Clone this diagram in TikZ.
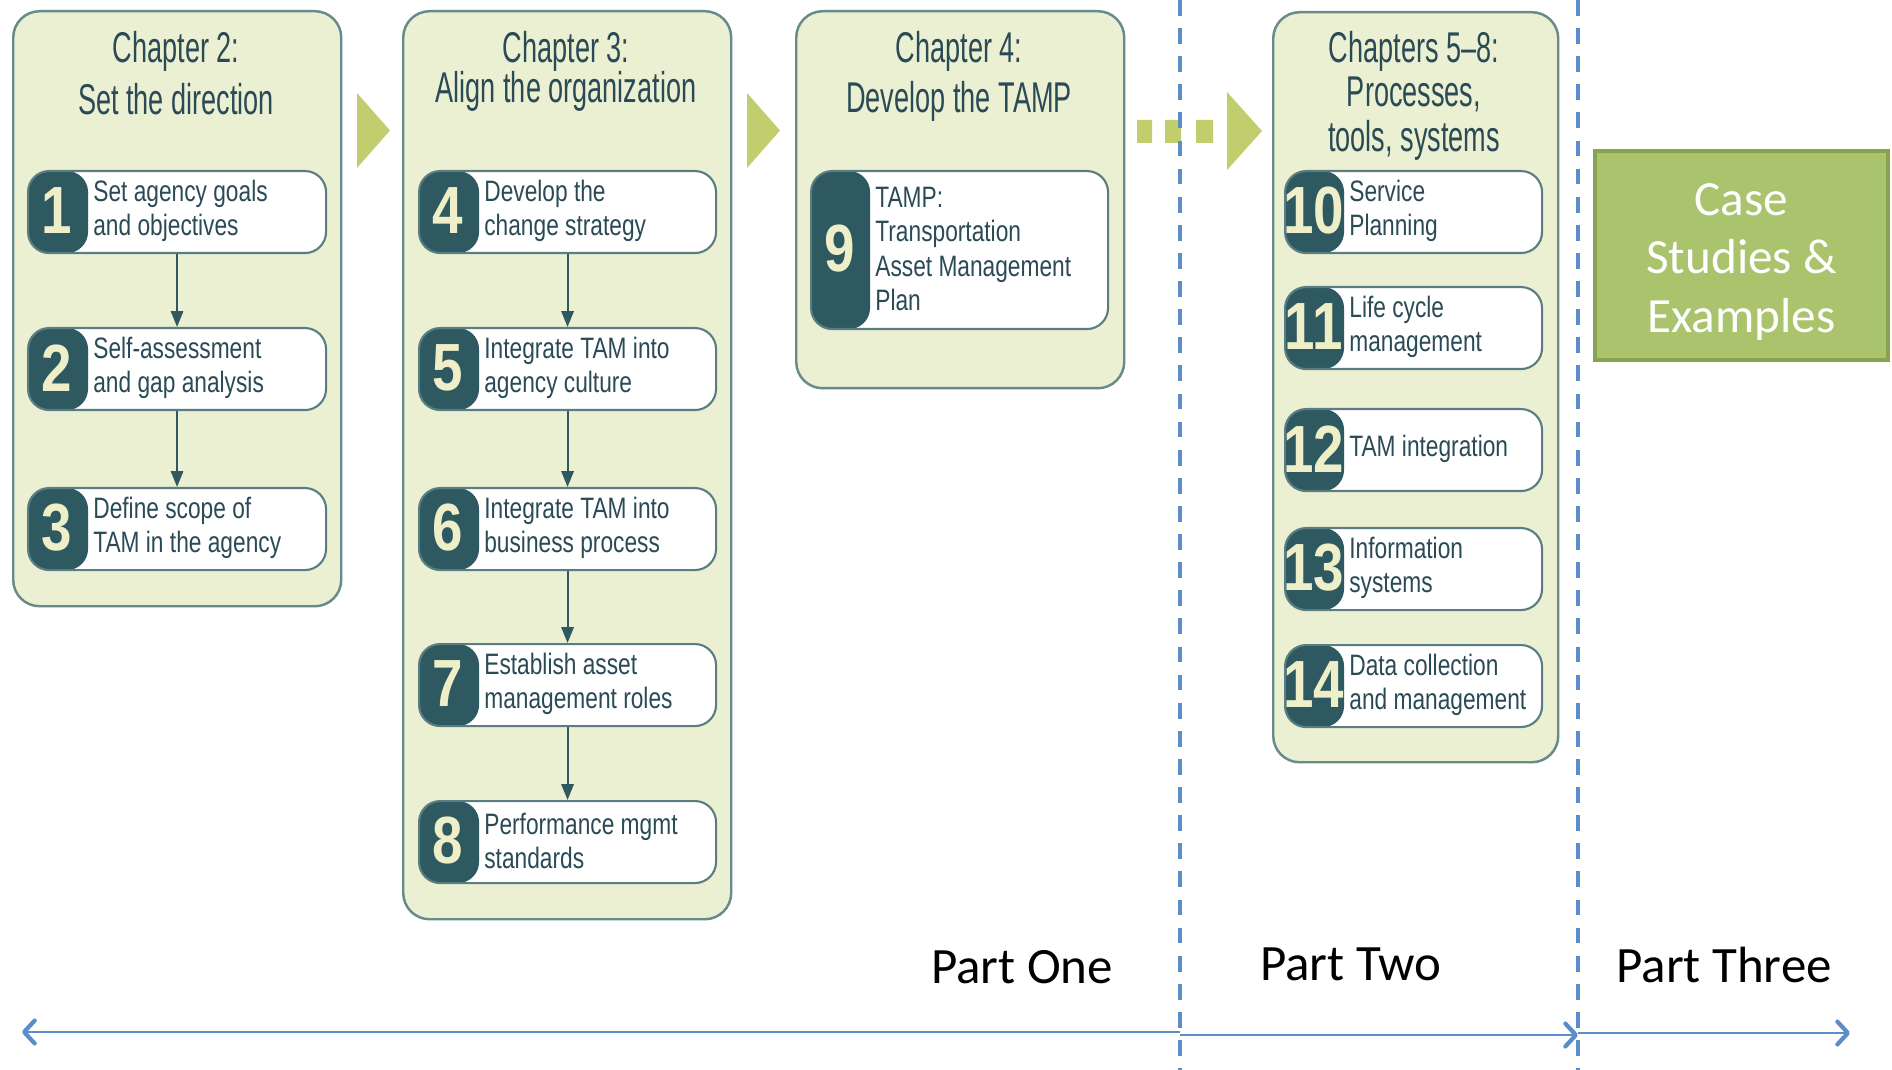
\documentclass[tikz,border=0pt]{standalone}
\usepackage{fontspec}
\setmainfont{Liberation Sans}
\newfontfamily\ttlfont{Liberation Sans}[FakeStretch=0.63]
\newfontfamily\itmfont{Liberation Sans}[FakeStretch=0.77]
\newfontfamily\numfont{Liberation Sans}[FakeStretch=0.82]
\newfontfamily\calfont{Carlito}
\usetikzlibrary{arrows.meta}

\definecolor{chapfill}{RGB}{236,240,211}
\definecolor{chapline}{RGB}{104,138,138}
\definecolor{itemline}{RGB}{90,125,130}
\definecolor{panel}{RGB}{46,89,97}
\definecolor{numcol}{RGB}{238,238,200}
\definecolor{ink}{RGB}{42,74,86}
\definecolor{arrowgreen}{RGB}{194,206,110}
\definecolor{divblue}{RGB}{92,141,200}
\definecolor{casefill}{RGB}{169,196,108}
\definecolor{caseline}{RGB}{135,163,80}

\tikzset{
  chapbox/.style={draw=chapline, fill=chapfill, line width=1.4pt,
    rounded corners=15pt, inner sep=0pt, anchor=north west},
  itembox/.style={draw=itemline, fill=white, line width=1.2pt,
    rounded corners=12pt, inner sep=0pt, anchor=north west},
  numtxt/.style={inner sep=0pt, text=numcol,
    font=\numfont\bfseries\fontsize{38}{40}\selectfont},
  itemtxt/.style={inner sep=0pt, anchor=west, align=left, text=ink,
    font=\itmfont\fontsize{16.8}{19.6}\selectfont},
  ttl/.style={inner sep=0pt, anchor=base, text=ink,
    font=\ttlfont\fontsize{24.5}{28}\selectfont},
  conn/.style={draw=panel, line width=1.1pt,
    -{Triangle[length=9pt,width=7pt]}},
  divider/.style={draw=divblue, line width=1.8pt,
    dash pattern=on 9pt off 7pt},
  timeline/.style={draw=divblue, line width=1.4pt,
    -{Straight Barb[length=6pt,width=13pt,line width=2.4pt,round]}},
  partlbl/.style={inner sep=0pt, anchor=base, text=black,
    font=\calfont\fontsize{29}{34}\selectfont},
}

% chapter frame: name, x0, y0, width, height (px)
\newcommand\chapframe[5]{%
  \node[chapbox, minimum width={#4*0.02cm}, minimum height={#5*0.02cm}]
    (#1) at (#2,#3) {};}

% step box: name, x0, y0, width, height, panel width, number, text
\newcommand\stepitem[8]{%
  \node[itembox, minimum width={#4*0.02cm}, minimum height={#5*0.02cm},
    path picture={\fill[panel] (path picture bounding box.north west)
      rectangle ([xshift={#6*0.02cm}]path picture bounding box.south west);}]
    (#1) at (#2,#3) {};
  \node[numtxt] (#1n) at ({#2+#6/2},{#3+#5/2}) {#7};
  \node[itemtxt] (#1t) at ({#2+#6+6},{#3+#5/2}) {#8};}

\begin{document}
\begin{tikzpicture}[x=0.02cm, y=-0.02cm]
\useasboundingbox[fill=white] (0,0) rectangle (1892,1070);

% chapter frames
\chapframe{ch2}{12}{10}{328}{595}
\chapframe{ch3}{402}{10}{328}{908}
\chapframe{ch4}{795}{10}{328}{377}
\chapframe{ch58}{1272}{11}{285}{750}

% chapter titles
\node[ttl] (t2a) at (176,63) {Chapter 2:};
\node[ttl] (t2b) at (176,115) {Set the direction};
\node[ttl] (t3a) at (566,63) {Chapter 3:};
\node[ttl] (t3b) at (566,103) {Align the organization};
\node[ttl] (t4a) at (959,63) {Chapter 4:};
\node[ttl] (t4b) at (959,113) {Develop the TAMP};
\node[ttl] (t5a) at (1414,63) {Chapters 5–8:};
\node[ttl] (t5b) at (1414,107) {Processes,};
\node[ttl] (t5c) at (1414,152) {tools, systems};

% green flow arrows between chapters
\fill[arrowgreen] (357,93) -- (390,130.5) -- (357,168) -- cycle;
\fill[arrowgreen] (747,93) -- (780,130.5) -- (747,168) -- cycle;
\fill[arrowgreen] (1137,120) rectangle (1152,143)
                  (1165,120) rectangle (1181,143)
                  (1196,120) rectangle (1213,143);
\fill[arrowgreen] (1227,92) -- (1262,131) -- (1227,170) -- cycle;

% Chapter 2 steps
\stepitem{i1}{27}{170}{298}{82}{60}{1}{Set agency goals\\and objectives}
\stepitem{i2}{27}{327}{298}{82}{60}{2}{Self-assessment\\and gap analysis}
\stepitem{i3}{27}{487}{298}{82}{60}{3}{Define scope of\\TAM in the agency}

% Chapter 3 steps
\stepitem{i4}{418}{170}{297}{82}{60}{4}{Develop the\\change strategy}
\stepitem{i5}{418}{327}{297}{82}{60}{5}{Integrate TAM into\\agency culture}
\stepitem{i6}{418}{487}{297}{82}{60}{6}{Integrate TAM into\\business process}
\stepitem{i7}{418}{643}{297}{82}{60}{7}{Establish asset\\management roles}
\stepitem{i8}{418}{800}{297}{82}{60}{8}{Performance mgmt\\standards}

% Chapter 4 step
\stepitem{i9}{810}{170}{297}{158}{59}{9}{TAMP:\\Transportation\\Asset Management\\Plan}

% Chapters 5-8 steps
\stepitem{i10}{1284}{170}{257}{82}{59}{10}{Service\\Planning}
\stepitem{i11}{1284}{286}{257}{82}{59}{11}{Life cycle\\management}
\stepitem{i12}{1284}{408}{257}{82}{59}{12}{TAM integration}
\stepitem{i13}{1284}{527}{257}{82}{59}{13}{Information\\systems}
\stepitem{i14}{1284}{644}{257}{82}{59}{14}{Data collection\\and management}

% step connectors
\draw[conn] (i1) -- (i2);
\draw[conn] (i2) -- (i3);
\draw[conn] (i4) -- (i5);
\draw[conn] (i5) -- (i6);
\draw[conn] (i6) -- (i7);
\draw[conn] (i7) -- (i8);

% part dividers
\draw[divider] (1180,0) -- (1180,1070);
\draw[divider] (1578,0) -- (1578,1070);

% case studies block
\node[draw=caseline, fill=casefill, line width=1.8pt, inner sep=0pt,
      minimum width={293*0.02cm}, minimum height={209*0.02cm}]
      (cs) at (1741.5,255.5) {};
\node[inner sep=0pt, text=white, align=center,
      font=\calfont\fontsize{28}{33.5}\selectfont] (cst) at (1741.5,262)
      {Case\\Studies \&\\Examples};

% part labels
\node[partlbl] (p1) at (1022,983) {Part One};
\node[partlbl] (p2) at (1351,980) {Part Two};
\node[partlbl] (p3) at (1724,982) {Part Three};

% timeline
\coordinate (tA) at (22,1032);
\coordinate (tB) at (1180,1032);
\coordinate (tC) at (1180,1035);
\coordinate (tD) at (1578,1035);
\coordinate (tE) at (1578,1033);
\coordinate (tF) at (1850,1033);
\draw[timeline] (tB) -- (tA);
\draw[timeline] (tC) -- (tD);
\draw[timeline] (tE) -- (tF);
\end{tikzpicture}
\end{document}
